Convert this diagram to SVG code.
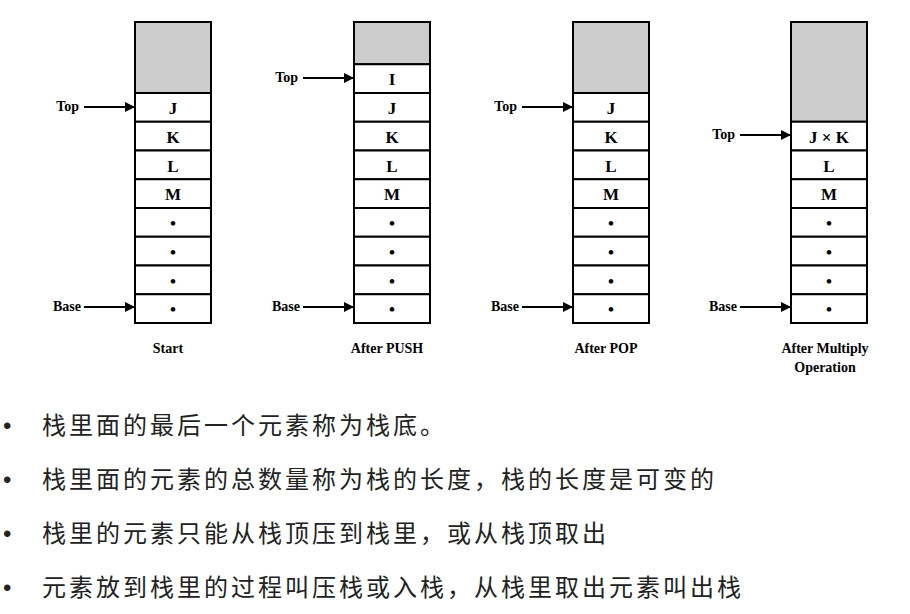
<svg xmlns="http://www.w3.org/2000/svg" width="910" height="614" viewBox="0 0 910 614">
<style>
.g{fill:#cccccc;stroke:#000;stroke-width:2}
.c{fill:#fff;stroke:#000;stroke-width:2}
.t{font-family:"Liberation Serif",serif;font-weight:bold;font-size:17px;text-anchor:middle}
.l{font-family:"Liberation Serif",serif;font-weight:bold;font-size:14px;text-anchor:end}
.cap{font-family:"Liberation Serif",serif;font-weight:bold;font-size:14px;text-anchor:middle}
.a{stroke:#000;stroke-width:2;marker-end:url(#ah)}
.b{font-family:"Noto Sans CJK SC","Noto Sans",sans-serif;font-size:24px;letter-spacing:3px;fill:#222}
.d{font-family:"Liberation Sans",sans-serif;font-size:24px;fill:#222}
</style>
<defs><marker id="ah" markerWidth="10" markerHeight="10" refX="9" refY="5" orient="auto" markerUnits="userSpaceOnUse"><path d="M0,0 L10,5 L0,10 z"/></marker></defs>
<rect width="910" height="614" fill="#fff"/>
<g id="stack1">
<rect class="g" x="135" y="22" width="76" height="71"/>
<rect class="c" x="135" y="93" width="76" height="28.75"/><rect class="c" x="135" y="121.75" width="76" height="28.75"/><rect class="c" x="135" y="150.5" width="76" height="28.75"/><rect class="c" x="135" y="179.25" width="76" height="28.75"/><rect class="c" x="135" y="208" width="76" height="28.75"/><rect class="c" x="135" y="236.75" width="76" height="28.75"/><rect class="c" x="135" y="265.5" width="76" height="28.75"/><rect class="c" x="135" y="294.25" width="76" height="28.75"/>
<text class="t" x="173" y="114">J</text><text class="t" x="173" y="143">K</text><text class="t" x="173" y="172">L</text><text class="t" x="173" y="200">M</text><text class="t" x="173" y="229">•</text><text class="t" x="173" y="258">•</text><text class="t" x="173" y="287">•</text><text class="t" x="173" y="315">•</text>
<text class="l" x="79" y="111">Top</text><text class="l" x="81" y="311">Base</text>
<text class="cap" x="168" y="353">Start</text>
</g>
<g id="stack2">
<rect class="g" x="354" y="22" width="76" height="42.25"/>
<rect class="c" x="354" y="64.25" width="76" height="28.75"/>
<rect class="c" x="354" y="93" width="76" height="28.75"/><rect class="c" x="354" y="121.75" width="76" height="28.75"/><rect class="c" x="354" y="150.5" width="76" height="28.75"/><rect class="c" x="354" y="179.25" width="76" height="28.75"/><rect class="c" x="354" y="208" width="76" height="28.75"/><rect class="c" x="354" y="236.75" width="76" height="28.75"/><rect class="c" x="354" y="265.5" width="76" height="28.75"/><rect class="c" x="354" y="294.25" width="76" height="28.75"/>
<text class="t" x="392" y="85">I</text><text class="t" x="392" y="114">J</text><text class="t" x="392" y="143">K</text><text class="t" x="392" y="172">L</text><text class="t" x="392" y="200">M</text><text class="t" x="392" y="229">•</text><text class="t" x="392" y="258">•</text><text class="t" x="392" y="287">•</text><text class="t" x="392" y="315">•</text>
<text class="l" x="298" y="82">Top</text><text class="l" x="300" y="311">Base</text>
<text class="cap" x="387" y="353">After PUSH</text>
</g>
<g id="stack3">
<rect class="g" x="573" y="22" width="76" height="71"/>
<rect class="c" x="573" y="93" width="76" height="28.75"/><rect class="c" x="573" y="121.75" width="76" height="28.75"/><rect class="c" x="573" y="150.5" width="76" height="28.75"/><rect class="c" x="573" y="179.25" width="76" height="28.75"/><rect class="c" x="573" y="208" width="76" height="28.75"/><rect class="c" x="573" y="236.75" width="76" height="28.75"/><rect class="c" x="573" y="265.5" width="76" height="28.75"/><rect class="c" x="573" y="294.25" width="76" height="28.75"/>
<text class="t" x="611" y="114">J</text><text class="t" x="611" y="143">K</text><text class="t" x="611" y="172">L</text><text class="t" x="611" y="200">M</text><text class="t" x="611" y="229">•</text><text class="t" x="611" y="258">•</text><text class="t" x="611" y="287">•</text><text class="t" x="611" y="315">•</text>
<text class="l" x="517" y="111">Top</text><text class="l" x="519" y="311">Base</text>
<text class="cap" x="606" y="353">After POP</text>
</g>
<g id="stack4">
<rect class="g" x="791" y="22" width="76" height="99.75"/>
<rect class="c" x="791" y="121.75" width="76" height="28.75"/><rect class="c" x="791" y="150.5" width="76" height="28.75"/><rect class="c" x="791" y="179.25" width="76" height="28.75"/><rect class="c" x="791" y="208" width="76" height="28.75"/><rect class="c" x="791" y="236.75" width="76" height="28.75"/><rect class="c" x="791" y="265.5" width="76" height="28.75"/><rect class="c" x="791" y="294.25" width="76" height="28.75"/>
<text class="t" x="829" y="143">J × K</text><text class="t" x="829" y="172">L</text><text class="t" x="829" y="200">M</text><text class="t" x="829" y="229">•</text><text class="t" x="829" y="258">•</text><text class="t" x="829" y="287">•</text><text class="t" x="829" y="315">•</text>
<text class="l" x="735" y="139">Top</text><text class="l" x="737" y="311">Base</text>
<text class="cap" x="825" y="353">After Multiply</text><text class="cap" x="825" y="372">Operation</text>
</g>
<g id="connectors">
<line class="a" x1="84" y1="107" x2="134" y2="107"/><line class="a" x1="84" y1="307" x2="134" y2="307"/>
<line class="a" x1="303" y1="78" x2="353" y2="78"/><line class="a" x1="303" y1="307" x2="353" y2="307"/>
<line class="a" x1="522" y1="107" x2="572" y2="107"/><line class="a" x1="522" y1="307" x2="572" y2="307"/>
<line class="a" x1="740" y1="135" x2="790" y2="135"/><line class="a" x1="740" y1="307" x2="790" y2="307"/>
</g>
<g id="bullets">
<text class="d" x="3" y="434">•</text><text class="b" x="42" y="434">栈里面的最后一个元素称为栈底。</text>
<text class="d" x="3" y="488">•</text><text class="b" x="42" y="488">栈里面的元素的总数量称为栈的长度，栈的长度是可变的</text>
<text class="d" x="3" y="542">•</text><text class="b" x="42" y="542">栈里的元素只能从栈顶压到栈里，或从栈顶取出</text>
<text class="d" x="3" y="596">•</text><text class="b" x="42" y="596">元素放到栈里的过程叫压栈或入栈，从栈里取出元素叫出栈</text>
</g>
</svg>
